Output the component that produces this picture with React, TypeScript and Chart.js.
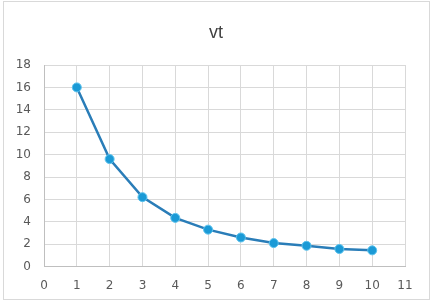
import React, { useEffect, useRef } from "react";
import { Chart, registerables } from "chart.js";

Chart.register(...registerables);

const xValues = [1, 2, 3, 4, 5, 6, 7, 8, 9, 10];
const yValues = [16, 9.6, 6.2, 4.35, 3.3, 2.6, 2.1, 1.86, 1.57, 1.45];
const titleText = "vt";

const frame = {
  id: "frame",
  beforeDraw(chart: any) {
    const ctx = chart.ctx;
    ctx.save();
    ctx.fillStyle = "#ffffff";
    ctx.fillRect(0, 0, chart.width, chart.height);
    ctx.strokeStyle = "#d9d9d9";
    ctx.lineWidth = 1;
    ctx.strokeRect(3.5, 1.5, 426, 298);
    ctx.fillStyle = "#404040";
    ctx.font = "18px 'Liberation Sans'";
    ctx.textAlign = "center";
    ctx.textBaseline = "middle";
    ctx.fillText(titleText, 216, 33);
    ctx.restore();
  },
};

export default function App() {
  const ref = useRef<HTMLCanvasElement>(null);
  useEffect(() => {
    const chart = new Chart(ref.current!, {
      type: "line",
      data: {
        datasets: [
          {
            data: xValues.map((x, i) => ({ x, y: yValues[i] })),
            borderColor: "#2a7db8",
            borderWidth: 2.5,
            backgroundColor: "#1b9ad6",
            pointBackgroundColor: "#1b9ad6",
            pointBorderColor: "#5cc3ee",
            pointBorderWidth: 1,
            pointRadius: 4.5,
            tension: 0,
          },
        ],
      },
      options: {
        animation: false,
        responsive: false,
        layout: { padding: { left: 0, right: 28, top: 65, bottom: 0 } },
        plugins: {
          legend: { display: false },
          tooltip: { enabled: false },
          title: { display: false },
        },
        scales: {
          x: {
            type: "linear",
            min: 0,
            max: 11,
            ticks: {
              stepSize: 1,
              color: "#595959",
              font: { family: "DejaVu Sans", size: 12 },
              padding: 12,
            },
            grid: { color: "#d9d9d9", drawTicks: false },
            border: { color: "#bfbfbf" },
          },
          y: {
            min: 0,
            max: 18,
            ticks: {
              stepSize: 2,
              color: "#595959",
              font: { family: "DejaVu Sans", size: 12 },
              padding: 13,
            },
            grid: { color: "#d9d9d9", drawTicks: false },
            border: { color: "#bfbfbf" },
            afterFit(scale: any) {
              scale.width = 44;
            },
          },
        },
      },
      plugins: [frame],
    });
    return () => chart.destroy();
  }, []);
  return (
    <div style={{ position: "fixed", left: 0, top: 0, width: 433, height: 305 }}>
      <canvas ref={ref} width={433} height={305} />
    </div>
  );
}
